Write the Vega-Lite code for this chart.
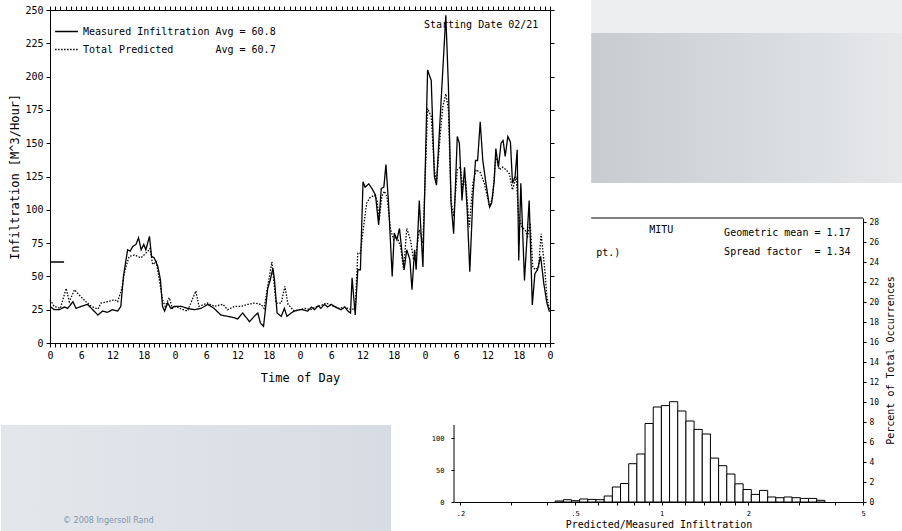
{
"$schema": "https://vega.github.io/schema/vega-lite/v6.json",
"padding": 0,
"background": "white",
"width": 500,
"height": 333,
"config": {
  "view": {"stroke": null},
  "font": "DejaVu Sans Mono",
  "axis": {"grid": false, "domainColor": "black", "tickColor": "black", "labelColor": "black", "titleColor": "black", "labelFont": "DejaVu Sans Mono", "titleFont": "DejaVu Sans Mono", "titleFontWeight": "normal", "domainWidth": 1, "tickWidth": 1},
  "legend": {"labelFont": "DejaVu Sans Mono"},
  "text": {"font": "DejaVu Sans Mono", "color": "black"}
},
"datasets": {
  "infil": [
{"h":0,"v":27.5,"s":"Measured"},{"h":0.8,"v":25,"s":"Measured"},{"h":1.8,"v":25,"s":"Measured"},{"h":2.75,"v":27,"s":"Measured"},{"h":3.4,"v":26,"s":"Measured"},{"h":4.4,"v":31,"s":"Measured"},{"h":5,"v":26,"s":"Measured"},{"h":6,"v":27.5,"s":"Measured"},{"h":7.2,"v":29,"s":"Measured"},{"h":8.2,"v":25,"s":"Measured"},{"h":9.2,"v":21,"s":"Measured"},{"h":10.1,"v":24,"s":"Measured"},{"h":11,"v":23,"s":"Measured"},{"h":12,"v":25,"s":"Measured"},{"h":13,"v":24,"s":"Measured"},{"h":13.6,"v":27.5,"s":"Measured"},{"h":14.1,"v":50,"s":"Measured"},{"h":14.9,"v":70,"s":"Measured"},{"h":15.4,"v":69,"s":"Measured"},{"h":15.9,"v":72.5,"s":"Measured"},{"h":16.5,"v":74,"s":"Measured"},{"h":17,"v":79,"s":"Measured"},{"h":17.5,"v":70,"s":"Measured"},{"h":18,"v":74,"s":"Measured"},{"h":18.4,"v":70,"s":"Measured"},{"h":19.1,"v":80,"s":"Measured"},{"h":19.5,"v":65,"s":"Measured"},{"h":20,"v":64,"s":"Measured"},{"h":20.7,"v":57.5,"s":"Measured"},{"h":21.2,"v":47.5,"s":"Measured"},{"h":21.6,"v":27.5,"s":"Measured"},{"h":22,"v":24,"s":"Measured"},{"h":22.6,"v":30,"s":"Measured"},{"h":23.2,"v":26,"s":"Measured"},{"h":23.9,"v":27.5,"s":"Measured"},
{"h":25.2,"v":27.5,"s":"Measured"},{"h":26.4,"v":26,"s":"Measured"},{"h":27.7,"v":25,"s":"Measured"},{"h":29,"v":26,"s":"Measured"},{"h":30.3,"v":29,"s":"Measured"},{"h":31.5,"v":26,"s":"Measured"},{"h":32.8,"v":21,"s":"Measured"},{"h":34.1,"v":20,"s":"Measured"},{"h":35.4,"v":19,"s":"Measured"},{"h":36,"v":18,"s":"Measured"},{"h":37,"v":22.5,"s":"Measured"},{"h":38.3,"v":16,"s":"Measured"},{"h":39.2,"v":20,"s":"Measured"},{"h":39.9,"v":22.5,"s":"Measured"},{"h":40.4,"v":15,"s":"Measured"},{"h":41,"v":12.5,"s":"Measured"},{"h":41.5,"v":30,"s":"Measured"},{"h":41.8,"v":41,"s":"Measured"},{"h":42.3,"v":47.5,"s":"Measured"},{"h":42.8,"v":56,"s":"Measured"},{"h":43.1,"v":47.5,"s":"Measured"},{"h":43.6,"v":22.5,"s":"Measured"},{"h":44.4,"v":20,"s":"Measured"},{"h":45,"v":26,"s":"Measured"},{"h":45.5,"v":20,"s":"Measured"},{"h":46.3,"v":22.5,"s":"Measured"},{"h":46.9,"v":24,"s":"Measured"},{"h":47.9,"v":25,"s":"Measured"},
{"h":48.5,"v":25,"s":"Measured"},{"h":49.5,"v":24,"s":"Measured"},{"h":50.2,"v":27,"s":"Measured"},{"h":50.8,"v":25,"s":"Measured"},{"h":51.5,"v":28,"s":"Measured"},{"h":52,"v":26,"s":"Measured"},{"h":52.7,"v":29,"s":"Measured"},{"h":53.3,"v":27,"s":"Measured"},{"h":54,"v":29,"s":"Measured"},{"h":54.6,"v":27.5,"s":"Measured"},{"h":55.3,"v":26,"s":"Measured"},{"h":55.9,"v":25,"s":"Measured"},{"h":56.6,"v":27,"s":"Measured"},{"h":57.2,"v":24,"s":"Measured"},{"h":57.7,"v":22.5,"s":"Measured"},{"h":58,"v":49,"s":"Measured"},{"h":58.6,"v":21,"s":"Measured"},{"h":59.1,"v":55,"s":"Measured"},{"h":59.6,"v":55,"s":"Measured"},{"h":60.1,"v":121,"s":"Measured"},{"h":60.5,"v":117,"s":"Measured"},{"h":61.2,"v":119.5,"s":"Measured"},{"h":61.8,"v":116,"s":"Measured"},{"h":62.5,"v":111,"s":"Measured"},{"h":63.1,"v":88.6,"s":"Measured"},{"h":63.6,"v":116,"s":"Measured"},{"h":64.1,"v":117,"s":"Measured"},{"h":64.5,"v":134,"s":"Measured"},{"h":65,"v":105,"s":"Measured"},{"h":65.7,"v":50,"s":"Measured"},{"h":66.1,"v":82.5,"s":"Measured"},{"h":66.6,"v":77.5,"s":"Measured"},{"h":67.1,"v":86,"s":"Measured"},{"h":67.6,"v":67.5,"s":"Measured"},{"h":68,"v":55,"s":"Measured"},{"h":68.5,"v":70,"s":"Measured"},{"h":69.1,"v":62.5,"s":"Measured"},{"h":69.5,"v":40,"s":"Measured"},{"h":70,"v":70,"s":"Measured"},{"h":70.3,"v":55,"s":"Measured"},{"h":70.9,"v":107,"s":"Measured"},{"h":71.6,"v":57,"s":"Measured"},
{"h":72.5,"v":205,"s":"Measured"},{"h":73.2,"v":197,"s":"Measured"},{"h":73.8,"v":125,"s":"Measured"},{"h":74.2,"v":118.5,"s":"Measured"},{"h":76,"v":246,"s":"Measured"},{"h":76.5,"v":192,"s":"Measured"},{"h":77,"v":105,"s":"Measured"},{"h":77.5,"v":82,"s":"Measured"},{"h":78.2,"v":155,"s":"Measured"},{"h":78.6,"v":150,"s":"Measured"},{"h":79.1,"v":107,"s":"Measured"},{"h":79.6,"v":132,"s":"Measured"},{"h":80.1,"v":100,"s":"Measured"},{"h":80.6,"v":53.5,"s":"Measured"},{"h":81.2,"v":110,"s":"Measured"},{"h":81.7,"v":137,"s":"Measured"},{"h":82.1,"v":137,"s":"Measured"},{"h":82.6,"v":166,"s":"Measured"},{"h":83.1,"v":137,"s":"Measured"},{"h":83.7,"v":120,"s":"Measured"},{"h":84.4,"v":102,"s":"Measured"},{"h":84.8,"v":105,"s":"Measured"},{"h":85.3,"v":122,"s":"Measured"},{"h":85.6,"v":146,"s":"Measured"},{"h":86.1,"v":132,"s":"Measured"},{"h":86.6,"v":150,"s":"Measured"},{"h":87,"v":152,"s":"Measured"},{"h":87.4,"v":140,"s":"Measured"},{"h":87.9,"v":155,"s":"Measured"},{"h":88.4,"v":151,"s":"Measured"},{"h":88.8,"v":120,"s":"Measured"},{"h":89.3,"v":125,"s":"Measured"},{"h":89.7,"v":145,"s":"Measured"},{"h":90,"v":62,"s":"Measured"},{"h":90.4,"v":120,"s":"Measured"},{"h":91.1,"v":47,"s":"Measured"},{"h":91.6,"v":80,"s":"Measured"},{"h":92,"v":107,"s":"Measured"},{"h":92.6,"v":28.5,"s":"Measured"},{"h":93.1,"v":52,"s":"Measured"},{"h":93.6,"v":55,"s":"Measured"},{"h":94.2,"v":65,"s":"Measured"},{"h":94.8,"v":45,"s":"Measured"},{"h":95.4,"v":30,"s":"Measured"},{"h":95.9,"v":23.5,"s":"Measured"},
{"h":0,"v":32.5,"s":"Predicted"},{"h":0.8,"v":27.5,"s":"Predicted"},{"h":2,"v":26,"s":"Predicted"},{"h":3.1,"v":41,"s":"Predicted"},{"h":3.7,"v":31,"s":"Predicted"},{"h":4.7,"v":40,"s":"Predicted"},{"h":5.6,"v":36,"s":"Predicted"},{"h":6.9,"v":31,"s":"Predicted"},{"h":7.9,"v":27.5,"s":"Predicted"},{"h":9.2,"v":25.5,"s":"Predicted"},{"h":9.8,"v":30,"s":"Predicted"},{"h":11.1,"v":31,"s":"Predicted"},{"h":12.4,"v":32.5,"s":"Predicted"},{"h":13,"v":31,"s":"Predicted"},{"h":13.8,"v":41,"s":"Predicted"},{"h":14.4,"v":55,"s":"Predicted"},{"h":15.2,"v":65,"s":"Predicted"},{"h":16.2,"v":66,"s":"Predicted"},{"h":17.5,"v":64,"s":"Predicted"},{"h":18.8,"v":69,"s":"Predicted"},{"h":19.2,"v":71,"s":"Predicted"},{"h":19.7,"v":59,"s":"Predicted"},{"h":20.4,"v":61,"s":"Predicted"},{"h":21.2,"v":42.5,"s":"Predicted"},{"h":21.6,"v":32.5,"s":"Predicted"},{"h":22.1,"v":27.5,"s":"Predicted"},{"h":22.9,"v":34,"s":"Predicted"},{"h":23.5,"v":26,"s":"Predicted"},{"h":24.2,"v":27.5,"s":"Predicted"},
{"h":25.2,"v":25.5,"s":"Predicted"},{"h":26.4,"v":24,"s":"Predicted"},{"h":28,"v":39,"s":"Predicted"},{"h":28.6,"v":27.5,"s":"Predicted"},{"h":30.3,"v":30,"s":"Predicted"},{"h":31.5,"v":27.5,"s":"Predicted"},{"h":33.2,"v":29,"s":"Predicted"},{"h":34.1,"v":25,"s":"Predicted"},{"h":35.4,"v":27.5,"s":"Predicted"},{"h":36.7,"v":27.5,"s":"Predicted"},{"h":38,"v":29,"s":"Predicted"},{"h":39.2,"v":30,"s":"Predicted"},{"h":40.5,"v":29,"s":"Predicted"},{"h":41.1,"v":26,"s":"Predicted"},{"h":41.8,"v":42.5,"s":"Predicted"},{"h":42.6,"v":61,"s":"Predicted"},{"h":43.4,"v":30,"s":"Predicted"},{"h":44.4,"v":30,"s":"Predicted"},{"h":45.1,"v":42.5,"s":"Predicted"},{"h":45.7,"v":29,"s":"Predicted"},{"h":46.9,"v":24,"s":"Predicted"},{"h":47.9,"v":25,"s":"Predicted"},
{"h":49,"v":26,"s":"Predicted"},{"h":50,"v":25,"s":"Predicted"},{"h":51,"v":27,"s":"Predicted"},{"h":52,"v":28,"s":"Predicted"},{"h":53,"v":30,"s":"Predicted"},{"h":53.6,"v":29,"s":"Predicted"},{"h":54.5,"v":27.5,"s":"Predicted"},{"h":55.5,"v":26,"s":"Predicted"},{"h":56.5,"v":27,"s":"Predicted"},{"h":57.9,"v":25,"s":"Predicted"},{"h":58.6,"v":26,"s":"Predicted"},{"h":59.1,"v":67.5,"s":"Predicted"},{"h":59.6,"v":67.5,"s":"Predicted"},{"h":60.2,"v":87,"s":"Predicted"},{"h":60.8,"v":105,"s":"Predicted"},{"h":61.4,"v":109,"s":"Predicted"},{"h":62.3,"v":111,"s":"Predicted"},{"h":62.8,"v":107,"s":"Predicted"},{"h":63.2,"v":92,"s":"Predicted"},{"h":63.7,"v":110,"s":"Predicted"},{"h":64.2,"v":114,"s":"Predicted"},{"h":64.7,"v":110,"s":"Predicted"},{"h":65.4,"v":85,"s":"Predicted"},{"h":66,"v":77.5,"s":"Predicted"},{"h":66.6,"v":80,"s":"Predicted"},{"h":67.3,"v":72.5,"s":"Predicted"},{"h":67.9,"v":55,"s":"Predicted"},{"h":68.5,"v":86,"s":"Predicted"},{"h":69.2,"v":77.5,"s":"Predicted"},{"h":69.8,"v":62.5,"s":"Predicted"},{"h":70.3,"v":67.5,"s":"Predicted"},{"h":70.9,"v":85,"s":"Predicted"},{"h":71.6,"v":75,"s":"Predicted"},
{"h":72.5,"v":176,"s":"Predicted"},{"h":73.2,"v":170,"s":"Predicted"},{"h":73.8,"v":130,"s":"Predicted"},{"h":74.2,"v":120,"s":"Predicted"},{"h":74.8,"v":150,"s":"Predicted"},{"h":75.4,"v":177,"s":"Predicted"},{"h":76,"v":187,"s":"Predicted"},{"h":76.5,"v":175,"s":"Predicted"},{"h":77,"v":107,"s":"Predicted"},{"h":77.5,"v":95,"s":"Predicted"},{"h":78.2,"v":130,"s":"Predicted"},{"h":78.8,"v":132,"s":"Predicted"},{"h":79.2,"v":117,"s":"Predicted"},{"h":79.8,"v":122,"s":"Predicted"},{"h":80.5,"v":87,"s":"Predicted"},{"h":81.2,"v":120,"s":"Predicted"},{"h":81.8,"v":130,"s":"Predicted"},{"h":82.6,"v":128,"s":"Predicted"},{"h":83.4,"v":120,"s":"Predicted"},{"h":84.4,"v":102,"s":"Predicted"},{"h":85,"v":110,"s":"Predicted"},{"h":85.6,"v":140,"s":"Predicted"},{"h":86.3,"v":130,"s":"Predicted"},{"h":86.9,"v":132,"s":"Predicted"},{"h":87.6,"v":130,"s":"Predicted"},{"h":88.2,"v":127,"s":"Predicted"},{"h":88.8,"v":115,"s":"Predicted"},{"h":89.5,"v":125,"s":"Predicted"},{"h":90,"v":95,"s":"Predicted"},{"h":90.6,"v":87,"s":"Predicted"},{"h":91.2,"v":85,"s":"Predicted"},{"h":91.7,"v":80,"s":"Predicted"},{"h":92.2,"v":90,"s":"Predicted"},{"h":92.7,"v":57,"s":"Predicted"},{"h":93.2,"v":55,"s":"Predicted"},{"h":93.8,"v":57,"s":"Predicted"},{"h":94.3,"v":82,"s":"Predicted"},{"h":95,"v":55,"s":"Predicted"},{"h":95.4,"v":35,"s":"Predicted"},{"h":95.9,"v":25,"s":"Predicted"}
  ],
  "hist": [
{"lo":0.4266,"hi":0.4554,"pct":0.1},{"lo":0.4554,"hi":0.4861,"pct":0.23},{"lo":0.4861,"hi":0.519,"pct":0.13},{"lo":0.519,"hi":0.554,"pct":0.3},{"lo":0.554,"hi":0.5914,"pct":0.26},{"lo":0.5914,"hi":0.6314,"pct":0.23},{"lo":0.6314,"hi":0.674,"pct":0.6},{"lo":0.674,"hi":0.7195,"pct":1.5},{"lo":0.7195,"hi":0.7681,"pct":1.85},{"lo":0.7681,"hi":0.82,"pct":3.83},{"lo":0.82,"hi":0.8753,"pct":4.8},{"lo":0.8753,"hi":0.9345,"pct":7.85},{"lo":0.9345,"hi":0.9975,"pct":9.5},{"lo":0.9975,"hi":1.0649,"pct":9.64},{"lo":1.0649,"hi":1.1368,"pct":10.03},{"lo":1.1368,"hi":1.2136,"pct":9.1},{"lo":1.2136,"hi":1.2955,"pct":8.1},{"lo":1.2955,"hi":1.383,"pct":7.26},{"lo":1.383,"hi":1.4764,"pct":6.8},{"lo":1.4764,"hi":1.5761,"pct":4.39},{"lo":1.5761,"hi":1.6827,"pct":3.63},{"lo":1.6827,"hi":1.7963,"pct":2.8},{"lo":1.7963,"hi":1.9176,"pct":1.82},{"lo":1.9176,"hi":2.0471,"pct":1.25},{"lo":2.0471,"hi":2.1854,"pct":0.76},{"lo":2.1854,"hi":2.3332,"pct":1.16},{"lo":2.3332,"hi":2.4908,"pct":0.5},{"lo":2.4908,"hi":2.6589,"pct":0.43},{"lo":2.6589,"hi":2.8379,"pct":0.5},{"lo":2.8379,"hi":3.029,"pct":0.43},{"lo":3.029,"hi":3.2339,"pct":0.36},{"lo":3.2339,"hi":3.4523,"pct":0.36},{"lo":3.4523,"hi":3.686,"pct":0.17}
  ]
},
"layer": [
  {
    "layer": [
      {
        "data": {"values": [{}]},
        "mark": {"type": "rect", "fill": {"gradient": "linear", "x1": 0, "y1": 0, "x2": 1, "y2": 0, "stops": [{"offset": 0, "color": "#e3e7eb"}, {"offset": 0.5, "color": "#dde2e8"}, {"offset": 1, "color": "#d6dce3"}]}},
        "encoding": {
          "x": {"datum": -9.41, "type": "quantitative", "axis": null},
          "x2": {"datum": 65.48},
          "y": {"datum": -61.56, "type": "quantitative", "axis": null},
          "y2": {"datum": -141.1}
        }
      },
      {
        "data": {"values": [{}]},
        "mark": {"type": "text", "text": "© 2008 Ingersoll Rand", "font": "DejaVu Sans", "fontSize": 8, "color": "#8293ae", "align": "left", "baseline": "middle"},
        "encoding": {
          "x": {"datum": 2.5, "type": "quantitative", "axis": null},
          "y": {"datum": -133.6, "type": "quantitative", "axis": null}
        }
      },
      {
        "data": {"values": [{}]},
        "mark": {"type": "rect", "fill": {"gradient": "linear", "x1": 0, "y1": 0, "x2": 1, "y2": 0, "stops": [{"offset": 0, "color": "#c8ccd1"}, {"offset": 0.5, "color": "#d6d9dd"}, {"offset": 1, "color": "#e6e8ea"}]}},
        "encoding": {
          "x": {"datum": 103.9, "type": "quantitative", "axis": null},
          "x2": {"datum": 163.8},
          "y": {"datum": 232.7, "type": "quantitative", "axis": null},
          "y2": {"datum": 120.1}
        }
      },
      {
        "data": {"values": [{}]},
        "mark": {"type": "rect", "fill": "#eceef0"},
        "encoding": {
          "x": {"datum": 103.9, "type": "quantitative", "axis": null},
          "x2": {"datum": 163.8},
          "y": {"datum": 257.5, "type": "quantitative", "axis": null},
          "y2": {"datum": 232.7}
        }
      },
      {
        "data": {"name": "infil"},
        "mark": {"type": "line", "strokeWidth": 1.3, "color": "black"},
        "encoding": {
          "x": {"field": "h", "type": "quantitative", "scale": {"domain": [0, 96], "nice": false, "zero": false},
            "axis": {"orient": "bottom", "values": [0,1,2,3,4,5,6,7,8,9,10,11,12,13,14,15,16,17,18,19,20,21,22,23,24,25,26,27,28,29,30,31,32,33,34,35,36,37,38,39,40,41,42,43,44,45,46,47,48,49,50,51,52,53,54,55,56,57,58,59,60,61,62,63,64,65,66,67,68,69,70,71,72,73,74,75,76,77,78,79,80,81,82,83,84,85,86,87,88,89,90,91,92,93,94,95,96],
              "labelExpr": "datum.value % 6 == 0 ? '' + (datum.value % 24) : ''", "labelFlush": false, "labelOverlap": false, "labelFontSize": 10, "labelPadding": 3, "tickSize": 4,
              "title": "Time of Day", "titleFontSize": 12, "titlePadding": 12}},
          "y": {"field": "v", "type": "quantitative", "scale": {"domain": [0, 250], "nice": false},
            "axis": {"orient": "left", "values": [0,25,50,75,100,125,150,175,200,225,250], "labelFontSize": 10, "labelPadding": 3, "tickSize": 4,
              "title": "Infiltration [M^3/Hour]", "titleFontSize": 12, "titlePadding": 3}},
          "strokeDash": {"field": "s", "type": "nominal",
            "scale": {"domain": ["Measured", "Predicted"], "range": [[1, 0], [1.5, 1.5]]},
            "legend": {"orient": "none", "legendX": 4, "legendY": 9, "title": null, "symbolType": "stroke", "symbolSize": 520, "symbolStrokeWidth": 1.3, "symbolStrokeColor": "black", "labelFontSize": 10, "labelColor": "black", "labelOffset": 4, "labelLimit": 400, "rowPadding": 0, "padding": 0,
              "labelExpr": "datum.label == 'Measured' ? 'Measured Infiltration\u00a0Avg = 60.8' : 'Total Predicted\u00a0\u00a0\u00a0\u00a0\u00a0\u00a0\u00a0Avg = 60.7'"}}
        }
      },
      {
        "data": {"values": [{}]},
        "mark": {"type": "rule", "color": "black", "strokeWidth": 1.5},
        "encoding": {
          "x": {"datum": 0, "type": "quantitative",
            "axis": {"orient": "top", "values": [0,1,2,3,4,5,6,7,8,9,10,11,12,13,14,15,16,17,18,19,20,21,22,23,24,25,26,27,28,29,30,31,32,33,34,35,36,37,38,39,40,41,42,43,44,45,46,47,48,49,50,51,52,53,54,55,56,57,58,59,60,61,62,63,64,65,66,67,68,69,70,71,72,73,74,75,76,77,78,79,80,81,82,83,84,85,86,87,88,89,90,91,92,93,94,95,96], "labels": false, "tickSize": 4, "title": null}},
          "x2": {"datum": 2.7},
          "y": {"datum": 60.8, "type": "quantitative",
            "axis": {"orient": "right", "values": [0,25,50,75,100,125,150,175,200,225,250], "labels": false, "tickSize": 4, "title": null}}
        }
      },
      {
        "data": {"values": [{}]},
        "mark": {"type": "text", "text": "Starting Date 02/21", "fontSize": 10, "align": "left", "baseline": "middle"},
        "encoding": {
          "x": {"datum": 71.8, "type": "quantitative", "axis": null},
          "y": {"datum": 238.7, "type": "quantitative", "axis": null}
        }
      }
    ],
    "resolve": {"axis": {"x": "independent", "y": "independent"}}
  },
  {
    "layer": [
      {
        "layer": [
          {
            "data": {"name": "hist"},
            "mark": {"type": "rect", "fill": "white", "stroke": "black", "strokeWidth": 1},
            "encoding": {
              "x": {"field": "lo", "type": "quantitative", "scale": {"type": "log", "domain": [0.19, 5], "nice": false, "range": [404, 813]},
                "axis": {"orient": "bottom", "offset": 159, "values": [0.2,0.3,0.4,0.5,0.6,0.7,0.8,0.9,1,1.2,1.4,1.6,1.8,2,3,4,5],
                  "labelExpr": "datum.value == 0.2 ? '.2' : datum.value == 0.5 ? '.5' : (datum.value == 1 || datum.value == 2 || datum.value == 5) ? '' + datum.value : ''",
                  "labelFlush": false, "labelOverlap": false, "labelFontSize": 7, "labelPadding": 4, "tickSize": 3,
                  "title": "Predicted/Measured Infiltration", "titleFontSize": 10, "titlePadding": 3}},
              "x2": {"field": "hi"},
              "y": {"field": "pct", "type": "quantitative", "scale": {"domain": [0, 28.4], "nice": false, "range": [492, 208]},
                "axis": {"orient": "right", "offset": 313, "values": [0,2,4,6,8,10,12,14,16,18,20,22,24,26,28], "labelFontSize": 8, "labelPadding": 3, "tickSize": 3,
                  "title": "Percent of Total Occurrences", "titleFontSize": 10, "titleAngle": 270, "titleBaseline": "top", "titlePadding": 7}},
              "y2": {"datum": 0}
            }
          },
          {
            "data": {"values": [{}]},
            "mark": {"type": "rule", "color": "black", "strokeWidth": 1},
            "encoding": {
              "x": {"datum": 0.569, "type": "quantitative", "axis": null},
              "x2": {"datum": 5},
              "y": {"datum": 28.4, "type": "quantitative", "axis": null}
            }
          },
          {
            "data": {"values": [{}]},
            "mark": {"type": "text", "text": "MITU", "fontSize": 10, "align": "center", "baseline": "middle"},
            "encoding": {
              "x": {"datum": 0.996, "type": "quantitative", "axis": null},
              "y": {"datum": 27.2, "type": "quantitative", "axis": null}
            }
          },
          {
            "data": {"values": [{}]},
            "mark": {"type": "text", "text": "Geometric mean = 1.17", "fontSize": 10, "align": "left", "baseline": "middle"},
            "encoding": {
              "x": {"datum": 1.647, "type": "quantitative", "axis": null},
              "y": {"datum": 26.9, "type": "quantitative", "axis": null}
            }
          },
          {
            "data": {"values": [{}]},
            "mark": {"type": "text", "text": "Spread factor\u00a0\u00a0= 1.34", "fontSize": 10, "align": "left", "baseline": "middle"},
            "encoding": {
              "x": {"datum": 1.647, "type": "quantitative", "axis": null},
              "y": {"datum": 25.0, "type": "quantitative", "axis": null}
            }
          },
          {
            "data": {"values": [{}]},
            "mark": {"type": "text", "text": "pt.)", "fontSize": 10, "align": "left", "baseline": "middle"},
            "encoding": {
              "x": {"datum": 0.592, "type": "quantitative", "axis": null},
              "y": {"datum": 24.9, "type": "quantitative", "axis": null}
            }
          }
        ],
        "resolve": {"axis": {"x": "independent", "y": "independent"}}
      },
      {
        "data": {"values": [{}]},
        "mark": {"type": "rule", "color": "black", "strokeWidth": 1},
        "encoding": {
          "x": {"datum": 0.19, "type": "quantitative", "axis": null},
          "y": {"datum": 0, "type": "quantitative", "scale": {"domain": [0, 446], "nice": false, "range": [492, 208]},
            "axis": {"orient": "left", "offset": -404, "values": [0, 50, 100], "domain": false, "labelFontSize": 7, "labelPadding": 7, "tickSize": 3, "title": null}},
          "y2": {"datum": 121}
        }
      }
    ],
    "resolve": {"scale": {"y": "independent"}, "axis": {"x": "independent", "y": "independent"}}
  }
],
"resolve": {"scale": {"x": "independent", "y": "independent"}, "axis": {"x": "independent", "y": "independent"}}
}
